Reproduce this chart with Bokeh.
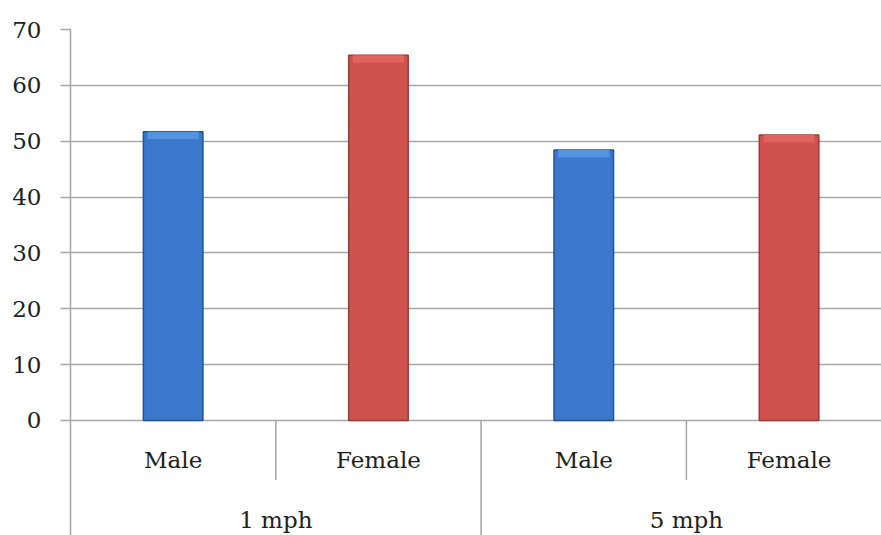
from bokeh.plotting import figure
from bokeh.models import ColumnDataSource, FixedTicker, Range1d
from bokeh.core.properties import value
from bokeh.embed import file_html
from bokeh.resources import INLINE

# ---- data ----
speeds = ["1 mph", "5 mph"]
genders = ["Male", "Female"]
scores = [51.7, 65.4, 48.4, 51.1]          # 1 mph Male, 1 mph Female, 5 mph Male, 5 mph Female
y_ticks = [0, 10, 20, 30, 40, 50, 60, 70]

# ---- styles ----
FONT = "DejaVu Serif"
FONT_SIZE = "23px"
TEXT_COLOR = "#1e1e1e"
GRID_COLOR = "#a6a6a6"
fill_main = {"Male": "#3b78cc", "Female": "#d0524e"}
fill_top = {"Male": "#5393e0", "Female": "#e0645f"}
edge = {"Male": "#24528f", "Female": "#943c39"}

labels, xs, colors, tops, edges = [], [], [], [], []
i = 0
for s in speeds:
    for g in genders:
        labels.append(g)
        xs.append(i + 0.5)
        colors.append(fill_main[g])
        tops.append(fill_top[g])
        edges.append(edge[g])
        i += 1

src = ColumnDataSource(dict(x=xs, top=scores, fill=colors, topfill=tops, edge=edges,
                            bevel=[v - 1.3 for v in scores], label=labels))

W, H = 881, 535
px_per_unit = (420.3 - 29.4) / 70.0
frame_top = 29
y_end = 70
y_start = y_end - (H - frame_top) / px_per_unit
left = 70
cat_px = 205.3
x_end = (W - left) / cat_px

p = figure(width=W, height=H, output_backend="svg", toolbar_location=None,
           x_range=Range1d(0, x_end), y_range=Range1d(y_start, y_end),
           x_axis_location=None, min_border_left=left, min_border_top=frame_top,
           min_border_bottom=0, min_border_right=0)
p.outline_line_color = None
p.xgrid.visible = False
p.background_fill_color = "white"
p.border_fill_color = "white"

ax = p.yaxis[0]
ax.ticker = FixedTicker(ticks=y_ticks)
ax.minor_tick_line_color = None
ax.major_tick_out = 10
ax.major_tick_in = 0
ax.major_label_standoff = 19
ax.axis_line_color = GRID_COLOR
ax.axis_line_width = 1.5
ax.major_tick_line_color = GRID_COLOR
ax.major_tick_line_width = 1.5
ax.major_label_text_font = FONT
ax.major_label_text_font_size = FONT_SIZE
ax.major_label_text_color = TEXT_COLOR

p.ygrid.grid_line_color = GRID_COLOR
p.ygrid.grid_line_width = 1.5

bw = 0.29
p.vbar(x="x", top="top", bottom=0, width=bw, source=src, fill_color="fill",
       line_color="edge", line_width=1.5)
p.vbar(x="x", top="top", bottom="bevel", width=bw - 0.04, source=src,
       fill_color="topfill", line_color=None)

# category separators
sub_y = (420.3 - 480) / px_per_unit
n = len(scores)
sep_x = [k for k in range(1, n)]
sep_y1 = [sub_y if k % 2 == 1 else y_start for k in sep_x]
p.segment(x0=sep_x, y0=[0] * len(sep_x), x1=sep_x, y1=sep_y1,
          line_color=GRID_COLOR, line_width=1.5)

# labels
label_y = (420.3 - 460) / px_per_unit
group_y = (420.3 - 520) / px_per_unit
p.text(x="x", y=label_y, text="label", source=src, text_align="center",
       text_baseline="middle", text_font=value(FONT), text_font_size=FONT_SIZE,
       text_color=TEXT_COLOR)
gx = [2 * k + 1 for k in range(len(speeds))]
p.text(x=gx, y=[group_y] * len(gx), text=speeds, text_align="center",
       text_baseline="middle", text_font=value(FONT), text_font_size=FONT_SIZE,
       text_color=TEXT_COLOR)

open("out.html", "w").write(file_html(p, INLINE))
